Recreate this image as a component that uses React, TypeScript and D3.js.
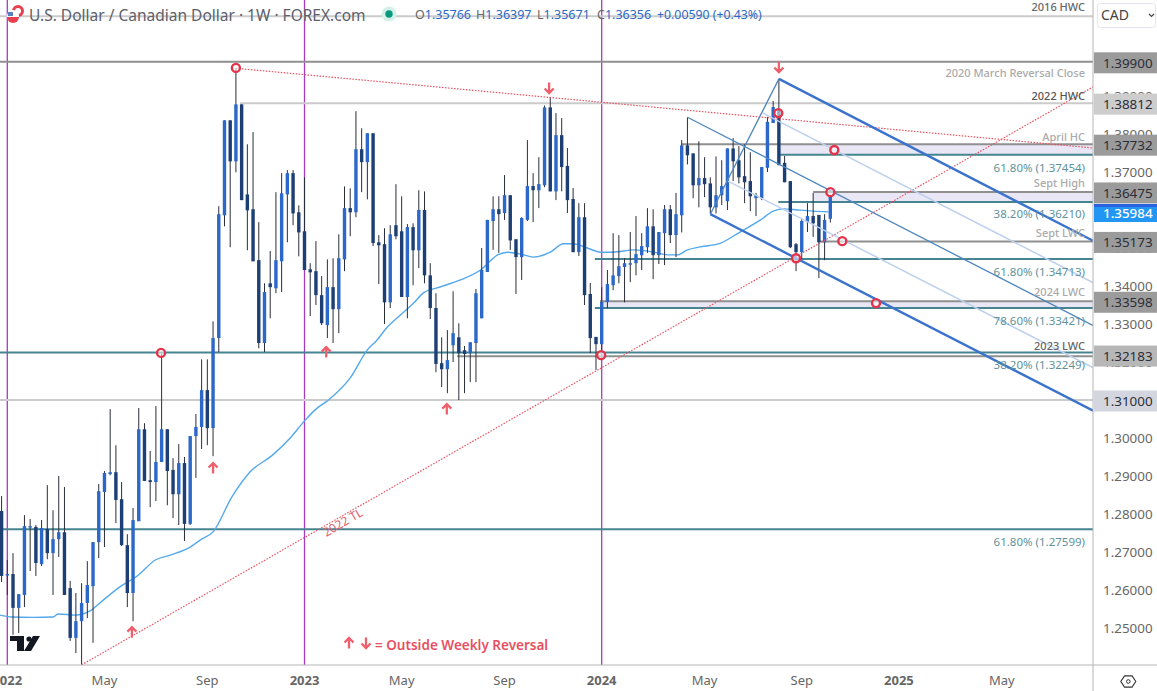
import React, { useMemo } from 'react';
import * as d3 from 'd3';

const FONT = '"Noto Sans", sans-serif';

// weekly USD/CAD candles, first one is the last week of 2021
const firstWeek = -1;
const opens = [
  1.2808, 1.2639, 1.2642, 1.2553, 1.2587, 1.2766, 1.2766, 1.2668, 1.2760, 1.2697,
  1.2734, 1.2752, 1.2605, 1.2474, 1.2518, 1.2566, 1.2610, 1.2726, 1.2858, 1.2905,
  1.2910, 1.2839, 1.2718, 1.2592, 1.2781, 1.3023, 1.2889, 1.2884, 1.2937, 1.3023,
  1.2916, 1.2852, 1.2934, 1.2774, 1.3005, 1.3029, 1.3126, 1.3026, 1.3263, 1.3586,
  1.3836, 1.3728, 1.3878, 1.3641, 1.3602, 1.3468, 1.3250, 1.3407, 1.3394, 1.3465,
  1.3641, 1.3697, 1.3594, 1.3544, 1.3444, 1.3439, 1.3376, 1.3297, 1.3397, 1.3339,
  1.3470, 1.3605, 1.3594, 1.3760, 1.3726, 1.3802, 1.3515, 1.3510, 1.3357, 1.3560,
  1.3544, 1.3371, 1.3555, 1.3494, 1.3600, 1.3428, 1.3342, 1.3197, 1.3181, 1.3244,
  1.3265, 1.3231, 1.3223, 1.3250, 1.3315, 1.3437, 1.3571, 1.3602, 1.3592, 1.3639,
  1.3523, 1.3476, 1.3574, 1.3663, 1.3652, 1.3665, 1.3870, 1.3649, 1.3797, 1.3716,
  1.3629, 1.3489, 1.3581, 1.3379, 1.3266, 1.3247, 1.3358, 1.3402, 1.3426, 1.3450,
  1.3457, 1.3460, 1.3481, 1.3502, 1.3557, 1.3481, 1.3539, 1.3602, 1.3534, 1.3586,
  1.3770, 1.3749, 1.3665, 1.3684, 1.3670, 1.3607, 1.3639, 1.3623, 1.3762, 1.3731,
  1.3689, 1.3676, 1.3631, 1.3631, 1.3711, 1.3829, 1.3863, 1.3724, 1.3676, 1.3510,
  1.3489, 1.3568, 1.3584, 1.3587, 1.3515, 1.3577
];
const closes = [
  1.2637, 1.2642, 1.2553, 1.2589, 1.2768, 1.2768, 1.2671, 1.2763, 1.2697, 1.2734,
  1.2752, 1.2587, 1.2474, 1.2518, 1.2566, 1.2613, 1.2726, 1.2860, 1.2908, 1.2910,
  1.2837, 1.2718, 1.2592, 1.2784, 1.3023, 1.2887, 1.2884, 1.2937, 1.3023, 1.2913,
  1.2852, 1.2934, 1.2774, 1.3005, 1.3029, 1.3126, 1.3026, 1.3263, 1.3589, 1.3836,
  1.3728, 1.3878, 1.3626, 1.3599, 1.3465, 1.3250, 1.3384, 1.3397, 1.3468, 1.3644,
  1.3697, 1.3591, 1.3541, 1.3442, 1.3436, 1.3376, 1.3302, 1.3397, 1.3339, 1.3473,
  1.3605, 1.3594, 1.3760, 1.3726, 1.3802, 1.3513, 1.3507, 1.3357, 1.3536, 1.3531,
  1.3371, 1.3555, 1.3494, 1.3600, 1.3428, 1.3342, 1.3195, 1.3181, 1.3205, 1.3276,
  1.3223, 1.3221, 1.3252, 1.3381, 1.3442, 1.3574, 1.3602, 1.3589, 1.3639, 1.3520,
  1.3476, 1.3579, 1.3663, 1.3652, 1.3668, 1.3870, 1.3649, 1.3797, 1.3713, 1.3626,
  1.3489, 1.3581, 1.3376, 1.3263, 1.3247, 1.3358, 1.3405, 1.3428, 1.3452, 1.3460,
  1.3460, 1.3484, 1.3505, 1.3557, 1.3481, 1.3542, 1.3602, 1.3534, 1.3589, 1.3770,
  1.3744, 1.3665, 1.3684, 1.3668, 1.3607, 1.3639, 1.3663, 1.3762, 1.3728, 1.3686,
  1.3673, 1.3636, 1.3639, 1.3713, 1.3832, 1.3871, 1.3718, 1.3673, 1.3502, 1.3489,
  1.3571, 1.3584, 1.3565, 1.3515, 1.3574, 1.3636
];
const highs = [
  1.2847, 1.2679, 1.2697, 1.2589, 1.2797, 1.2787, 1.2771, 1.2784, 1.2876, 1.2810,
  1.2900, 1.2871, 1.2624, 1.2592, 1.2618, 1.2676, 1.2726, 1.2879, 1.2913, 1.3076,
  1.2981, 1.2884, 1.2747, 1.2816, 1.3079, 1.3039, 1.2966, 1.3084, 1.3223, 1.3023,
  1.2947, 1.2984, 1.2950, 1.3005, 1.3063, 1.3207, 1.3207, 1.3307, 1.3610, 1.3836,
  1.3836, 1.3973, 1.3878, 1.3773, 1.3805, 1.3568, 1.3407, 1.3492, 1.3647, 1.3697,
  1.3705, 1.3705, 1.3612, 1.3686, 1.3460, 1.3518, 1.3426, 1.3470, 1.3473, 1.3536,
  1.3662, 1.3657, 1.3860, 1.3815, 1.3802, 1.3802, 1.3534, 1.3552, 1.3560, 1.3668,
  1.3636, 1.3563, 1.3565, 1.3652, 1.3649, 1.3460, 1.3381, 1.3265, 1.3284, 1.3386,
  1.3302, 1.3242, 1.3252, 1.3392, 1.3500, 1.3574, 1.3636, 1.3636, 1.3692, 1.3639,
  1.3523, 1.3581, 1.3784, 1.3697, 1.3739, 1.3875, 1.3897, 1.3855, 1.3842, 1.3763,
  1.3658, 1.3618, 1.3618, 1.3408, 1.3266, 1.3397, 1.3442, 1.3539, 1.3534, 1.3473,
  1.3542, 1.3584, 1.3539, 1.3605, 1.3602, 1.3542, 1.3613, 1.3613, 1.3645, 1.3784,
  1.3844, 1.3749, 1.3781, 1.3739, 1.3686, 1.3741, 1.3731, 1.3762, 1.3789, 1.3768,
  1.3773, 1.3752, 1.3645, 1.3713, 1.3845, 1.3887, 1.3945, 1.3742, 1.3676, 1.3513,
  1.3576, 1.3618, 1.3645, 1.3587, 1.3589, 1.3640
];
const lows = [
  1.2621, 1.2587, 1.2482, 1.2487, 1.2555, 1.2650, 1.2637, 1.2663, 1.2681, 1.2587,
  1.2687, 1.2587, 1.2466, 1.2434, 1.2403, 1.2526, 1.2461, 1.2684, 1.2713, 1.2902,
  1.2776, 1.2716, 1.2555, 1.2518, 1.2781, 1.2887, 1.2818, 1.2834, 1.2937, 1.2823,
  1.2789, 1.2771, 1.2729, 1.2771, 1.2895, 1.2971, 1.2981, 1.2952, 1.3226, 1.3557,
  1.3502, 1.3699, 1.3626, 1.3494, 1.3465, 1.3236, 1.3226, 1.3315, 1.3381, 1.3384,
  1.3515, 1.3560, 1.3478, 1.3442, 1.3321, 1.3350, 1.3297, 1.3263, 1.3250, 1.3276,
  1.3439, 1.3531, 1.3581, 1.3647, 1.3628, 1.3505, 1.3405, 1.3300, 1.3342, 1.3523,
  1.3371, 1.3315, 1.3402, 1.3447, 1.3407, 1.3313, 1.3173, 1.3134, 1.3118, 1.3200,
  1.3100, 1.3118, 1.3147, 1.3147, 1.3315, 1.3437, 1.3495, 1.3487, 1.3574, 1.3495,
  1.3379, 1.3416, 1.3571, 1.3568, 1.3605, 1.3660, 1.3649, 1.3626, 1.3649, 1.3592,
  1.3489, 1.3479, 1.3350, 1.3224, 1.3179, 1.3231, 1.3342, 1.3389, 1.3407, 1.3357,
  1.3410, 1.3428, 1.3442, 1.3487, 1.3418, 1.3458, 1.3455, 1.3513, 1.3476, 1.3541,
  1.3720, 1.3631, 1.3607, 1.3634, 1.3591, 1.3591, 1.3613, 1.3600, 1.3676, 1.3670,
  1.3618, 1.3597, 1.3584, 1.3626, 1.3700, 1.3829, 1.3718, 1.3673, 1.3500, 1.3439,
  1.3471, 1.3542, 1.3529, 1.3421, 1.3468, 1.3567
];

// moving average, read at the bends
const maWeeks = [
  -1.3, 0.8, 4.5, 8, 8.9, 11.9, 14.5, 16.2, 19.4, 22.9, 25.9, 28.5, 32, 33.8, 36, 39.3, 42.5, 46.4, 49.5, 52,
  54, 56.2, 60, 63, 64.7, 66.5, 68.2, 71.1, 72.8, 75.2, 79.3, 82.8, 85.8, 87.5, 89.8, 92.1, 95, 97.3, 99, 101.5,
  103.8, 106, 109.6, 113.1, 115.5, 117.3, 119, 121.3, 124.8, 128.2, 131.8, 134, 135.9, 138.3, 141, 143.7
];
const maValues = [
  1.2534, 1.2529, 1.2528, 1.2529, 1.2537, 1.2534, 1.2545, 1.2566, 1.2605, 1.2639, 1.2679, 1.2692, 1.2713, 1.2732, 1.2753, 1.2845, 1.2911, 1.2955, 1.3000, 1.3045,
  1.3076, 1.3100, 1.3158, 1.3232, 1.3258, 1.3292, 1.3316, 1.3355, 1.3382, 1.3395, 1.3416, 1.3442, 1.3482, 1.3489, 1.3484, 1.3476, 1.3489, 1.3511, 1.3511, 1.3500,
  1.3489, 1.3489, 1.3495, 1.3489, 1.3482, 1.3482, 1.3495, 1.3503, 1.3513, 1.3542, 1.3574, 1.3597, 1.3603, 1.3600, 1.3597, 1.3595
];

// [price, first week, kind]
const levels: [number, number, string][] = [
  [1.411, -3, 'minor'], [1.399, -3, 'major'], [1.38812, 40.7, 'minor'], [1.37732, 117.9, 'major'],
  [1.37454, 135, 'fib'], [1.36475, 141, 'major'], [1.3621, 134.9, 'fib'], [1.35173, 141.9, 'major'],
  [1.34713, 102.8, 'fib'], [1.33598, 103.7, 'major'], [1.33421, 102.8, 'fib'], [1.3215, 78.7, 'major'],
  [1.32249, -3, 'fib'], [1.31, -3, 'minor'], [1.27599, -3, 'fib']
];
// [upper price, lower price, first week]
const zones = [[1.37732, 1.37454, 135], [1.36475, 1.3621, 141], [1.33598, 1.33421, 103.7]];

const END_WEEK = 190.1;
const trendLines = [[13, 1.2403, END_WEEK, 1.3925], [40, 1.3973, END_WEEK, 1.3763]];
const forkThick = [[135, 1.3945, END_WEEK, 1.3518], [123, 1.3589, END_WEEK, 1.3071]];
const forkMedian = [[119, 1.3844, END_WEEK, 1.3295], [123, 1.3589, 135, 1.3945]];
const forkLight = [[132.2, 1.3855, END_WEEK, 1.3408], [126.1, 1.3676, END_WEEK, 1.3184]];

const circleMarks = [
  [40, 1.3974], [26.9, 1.3224], [134.9, 1.3855], [144.7, 1.3758], [144, 1.3647],
  [146.1, 1.3518], [138, 1.3473], [152, 1.3355], [103.9, 1.3218]
];
const upMarks = [[36, 1.2921], [55.8, 1.3226], [76.9, 1.3076], [21.8, 1.2489]];
const downMarks = [[94.8, 1.3921], [135, 1.3976]];

const purpleWeeks = [0, 52, 104];
const dateTicks: [number, string, boolean][] = [
  [0, '2022', true], [17, 'May', false], [35, 'Sep', false], [52, '2023', true], [69, 'May', false],
  [87, 'Sep', false], [104, '2024', true], [122, 'May', false], [139, 'Sep', false], [156, '2025', true], [174, 'May', false]
];
const priceTicks = d3.range(1.25, 1.3901, 0.01);
// [price, label, background]
const priceTags: [number, string, string][] = [
  [1.399, '1.39900', '#9b9b9b'], [1.38812, '1.38812', '#cdcdcd'], [1.37732, '1.37732', '#9b9b9b'],
  [1.36475, '1.36475', '#9b9b9b'], [1.35173, '1.35173', '#9b9b9b'], [1.33598, '1.33598', '#9b9b9b'],
  [1.32183, '1.32183', '#b7b7b7'], [1.31, '1.31000', '#d3d6df']
];
// [price the label is read against, text, colour]
const levelLabels: [number, string, string][] = [
  [1.4136, '2016 HWC', '#666'], [1.3963, '2020 March Reversal Close', '#aaa'], [1.3903, '2022 HWC', '#555'],
  [1.3795, 'April HC', '#aaa'], [1.3713, '61.80% (1.37454)', '#5f929c'], [1.3674, 'Sept High', '#aaa'],
  [1.3592, '38.20% (1.36210)', '#5f929c'], [1.3542, 'Sept LWC', '#aaa'], [1.3439, '61.80% (1.34713)', '#5f929c'],
  [1.3387, '2024 LWC', '#aaa'], [1.331, '78.60% (1.33421)', '#5f929c'], [1.3244, '2023 LWC', '#666'],
  [1.3194, '38.20% (1.32249)', '#5f929c'], [1.2729, '61.80% (1.27599)', '#5f929c']
];

const headerValues = [
  ['O', '1.35766', 415], ['H', '1.36397', 476], ['L', '1.35671', 537], ['C', '1.36356', 597]
];

const x = d3.scaleLinear().domain([0, 52]).range([7.3, 304.5]);
const y = d3.scaleLinear().domain([1.25, 1.37]).range([628, 172]);

const levelColors: Record<string, string> = { major: '#8f8f8f', minor: '#cbcbcb', fib: '#478491' };

const Arrow = ({ cx, cy, up }: { cx: number; cy: number; up: boolean }) => {
  const s = up ? 1 : -1;
  return (
    <path
      d={`M${cx - 4.5},${cy - s * 0.5}L${cx},${cy - s * 5}L${cx + 4.5},${cy - s * 0.5}M${cx},${cy - s * 5}V${cy + s * 5.5}`}
      fill="none" stroke="#ef5f6c" strokeWidth={2.3}
    />
  );
};

const App: React.FC = () => {
  const candles = useMemo(() => opens.map((o, i) => ({
    week: firstWeek + i, open: o, close: closes[i], high: highs[i], low: lows[i]
  })), []);
  const maPath = useMemo(() => {
    const line = d3.line<number>().x((_, i) => x(maWeeks[i])).y(d => y(d)).curve(d3.curveMonotoneX);
    return line(maValues) || '';
  }, []);
  const seg = (s: number[], k: string, attrs: React.SVGProps<SVGLineElement>) => (
    <line key={k} x1={x(s[0])} y1={y(s[1])} x2={x(s[2])} y2={y(s[3])} {...attrs} />
  );

  return (
    <svg width={1157} height={691} style={{ position: 'absolute', left: 0, top: 0, background: '#fff', fontFamily: FONT }}>
      <defs>
        <clipPath id="plot"><rect x={0} y={0} width={1093} height={665} /></clipPath>
      </defs>

      <g clipPath="url(#plot)">
        {purpleWeeks.map(w => <line key={w} x1={x(w)} x2={x(w)} y1={0} y2={665} stroke="#a53cc0" strokeWidth={1.3} />)}
        {zones.map((z, i) => (
          <rect key={i} x={x(z[2])} y={y(z[0])} width={1093 - x(z[2])} height={y(z[1]) - y(z[0])} fill="#e9e7f5" />
        ))}
        {levels.map((l, i) => (
          <line key={i} x1={x(l[1])} x2={1093} y1={y(l[0])} y2={y(l[0])} stroke={levelColors[l[2]]} strokeWidth={2} />
        ))}

        <path d={maPath} fill="none" stroke="#54a8ec" strokeWidth={1.4} />

        {candles.map(c => {
          const up = c.close >= c.open;
          const top = y(Math.max(c.open, c.close));
          const bottom = y(Math.min(c.open, c.close));
          return (
            <g key={c.week}>
              <line x1={x(c.week)} x2={x(c.week)} y1={y(c.high)} y2={y(c.low)} stroke="#2a2e39" strokeWidth={1} />
              <rect x={x(c.week) - 1.7} y={top} width={3.4} height={Math.max(bottom - top, 1.5)} fill={up ? '#2b68c8' : '#1d3f73'} />
            </g>
          );
        })}

        {trendLines.map((s, i) => seg(s, `t${i}`, { stroke: '#e8505f', strokeWidth: 1.2, strokeDasharray: '1.5 1.5' }))}
        {forkLight.map((s, i) => seg(s, `l${i}`, { stroke: '#bcd0ee', strokeWidth: 1.5 }))}
        {forkMedian.map((s, i) => seg(s, `m${i}`, { stroke: '#4f86bd', strokeWidth: 1.3 }))}
        {forkThick.map((s, i) => seg(s, `f${i}`, { stroke: '#3b73cc', strokeWidth: 2.4 }))}

        {circleMarks.map((m, i) => (
          <circle key={i} cx={x(m[0])} cy={y(m[1])} r={4} fill="#fff" fillOpacity={0.55} stroke="#e2334a" strokeWidth={2.4} />
        ))}
        {upMarks.map((m, i) => <Arrow key={i} cx={x(m[0])} cy={y(m[1])} up />)}
        {downMarks.map((m, i) => <Arrow key={i} cx={x(m[0])} cy={y(m[1])} up={false} />)}

        <text transform="translate(345,526) rotate(-30)" textAnchor="middle" fontSize={12} fill="#e0606c">2022 TL</text>
      </g>

      {levelLabels.map((l, i) => {
        const fib = l[1].includes('%');
        return (
          <text key={i} x={1085} y={y(l[0]) + 5} textAnchor="end" fontSize={fib ? 11.5 : 11} fill={l[2]} fontWeight={fib ? 400 : 500}>{l[1]}</text>
        );
      })}

      <Arrow cx={349} cy={643} up />
      <Arrow cx={366} cy={643} up={false} />
      <text x={375} y={650} fontSize={13.5} fontWeight={600} fill="#e8505f">= Outside Weekly Reversal</text>

      {/* TradingView mark */}
      <path d="M10,636H24V651H17V641H10Z M33,636H40L31,651H24Z" fill="#131722" />
      <circle cx={29} cy={639} r={2.6} fill="#131722" />

      {/* header */}
      <circle cx={18} cy={11} r={6} fill="#e8404f" />
      <circle cx={18} cy={11} r={3} fill="#fff" />
      <circle cx={13} cy={16} r={6} fill="#fff" />
      <path d="M7,17H19A6,6 0 0 1 7,17Z" fill="#e8404f" />
      <rect x={8} y={12} width={5} height={4} fill="#5a7ec0" />
      <text x={29} y={20.5} fontSize={15.5} fill="#5d606b">U.S. Dollar / Canadian Dollar · 1W · FOREX.com</text>
      <circle cx={389} cy={14} r={7.5} fill="#d5efe9" />
      <circle cx={389} cy={14} r={3.7} fill="#089981" />
      {headerValues.map(v => (
        <text key={v[0]} x={v[2] as number} y={19} fontSize={12.5} fill="#666">
          {v[0]}<tspan fill="#2b68c8">{v[1]}</tspan>
        </text>
      ))}
      <text x={657} y={19} fontSize={12.3} fill="#2b68c8">+0.00590 (+0.43%)</text>

      {/* axes */}
      <line x1={0} x2={1157} y1={665} y2={665} stroke="#b5b5b5" />
      <line x1={1093} x2={1093} y1={0} y2={691} stroke="#b5b5b5" />
      {dateTicks.map(t => (
        <text key={t[0]} x={x(t[0])} y={685} textAnchor="middle" fontSize={13} fontWeight={t[2] ? 700 : 400} fill="#666">{t[1]}</text>
      ))}
      {priceTicks.map(t => (
        <text key={t} x={1103} y={y(t) + 5} fontSize={13.4} fill="#666">{t.toFixed(5)}</text>
      ))}
      {priceTags.map(t => (
        <g key={t[1]}>
          <rect x={1094} y={y(t[0]) - 9.5} width={63} height={21} fill={t[2]} />
          <text x={1103} y={y(t[0]) + 6} fontSize={13.4} fill="#2a2e39">{t[1]}</text>
        </g>
      ))}
      <rect x={1094} y={204} width={63} height={18} fill="#2196f3" />
      <rect x={1094} y={204} width={63} height={3} fill="#2a62e0" />
      <text x={1103} y={218} fontSize={13.4} fontWeight={500} fill="#fff">1.35984</text>

      <rect x={1097.5} y={3.5} width={58} height={24} rx={3} fill="#fff" stroke="#e4e6ec" />
      <text x={1101} y={20} fontSize={14} fill="#444">CAD</text>
      <path d="M1149,14L1151.5,16.5L1154,14" fill="none" stroke="#444" strokeWidth={1.2} />
      <path d={d3.range(6).map(i => {
        const a = Math.PI / 3 * i;
        return `${i ? 'L' : 'M'}${1128.3 + 7.5 * Math.cos(a)},${681.5 + 6.5 * Math.sin(a)}`;
      }).join('') + 'Z'} fill="none" stroke="#333" strokeWidth={1.1} />
      <circle cx={1128.3} cy={681.5} r={1.8} fill="none" stroke="#333" strokeWidth={1} />
    </svg>
  );
};

export default App;
